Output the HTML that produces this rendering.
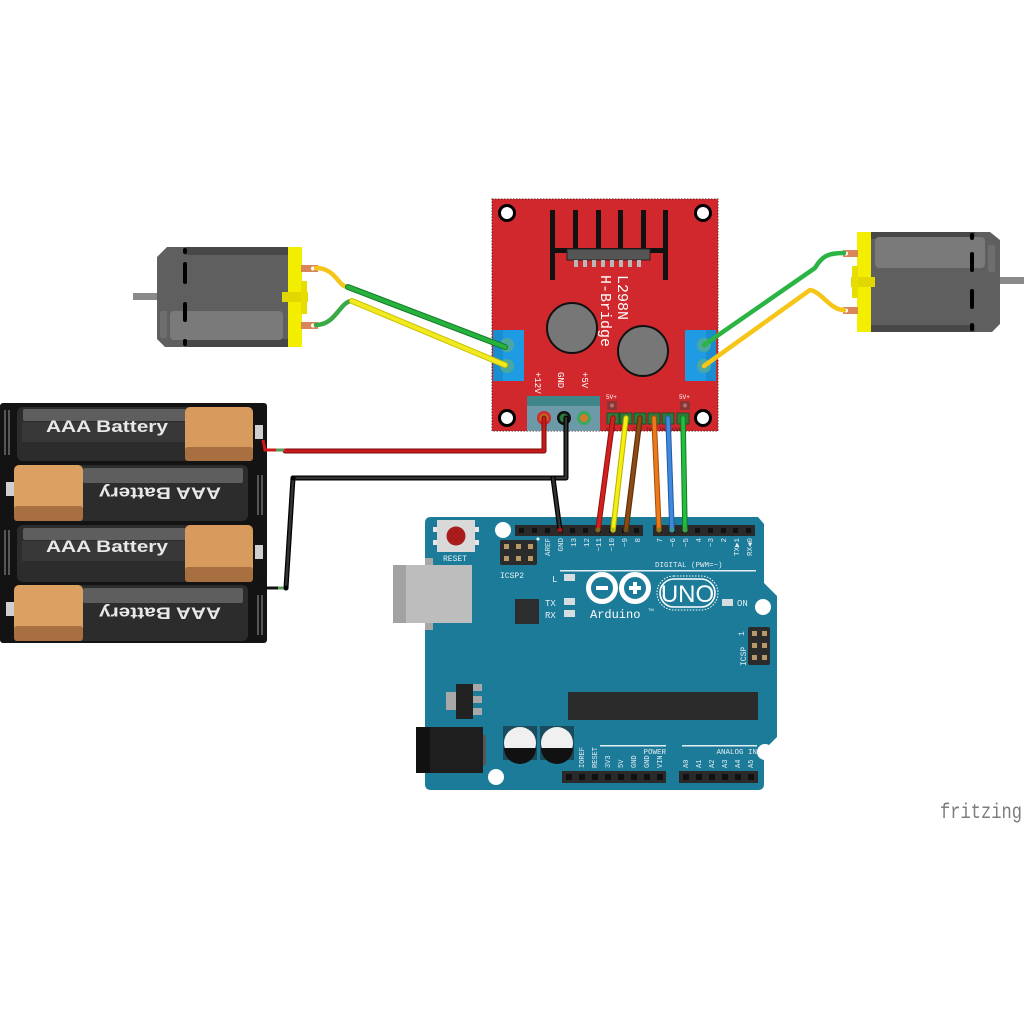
<!DOCTYPE html>
<html><head><meta charset="utf-8">
<style>
html,body{margin:0;padding:0;background:#fff;}
svg{display:block;}
.mono{font-family:"Liberation Mono",monospace;}
.sans{font-family:"Liberation Sans",sans-serif;}
</style></head>
<body>
<svg width="1024" height="1024" viewBox="0 0 1024 1024" xmlns="http://www.w3.org/2000/svg">
<rect width="1024" height="1024" fill="#fff"/>

<!-- ================= ARDUINO ================= -->
<path d="M431,517 L758,517 L764,524 L764,583 L777,596 L777,737 L764,750 L764,784 Q764,790 758,790 L431,790 Q425,790 425,784 L425,523 Q425,517 431,517 Z" fill="#1c7b99"/>
<!-- USB -->
<rect x="425" y="558" width="8" height="72" fill="#a8a8a8"/>
<rect x="393" y="565" width="79" height="58" fill="#bdbdbd"/>
<rect x="393" y="565" width="13" height="58" fill="#a2a2a2"/>
<!-- reset -->
<rect x="433" y="527" width="46" height="5" fill="#e6e6e6"/>
<rect x="433" y="540" width="46" height="5" fill="#e6e6e6"/>
<rect x="437" y="520" width="38" height="32" fill="#d9d9d9"/>
<circle cx="456" cy="536" r="9.5" fill="#a81c1c"/>
<text x="455" y="561" class="mono" font-size="8" fill="#e6f0f3" text-anchor="middle">RESET</text>
<!-- holes -->
<circle cx="503" cy="530" r="8" fill="#fff"/>
<circle cx="763" cy="607" r="8" fill="#fff"/>
<circle cx="765" cy="752" r="8" fill="#fff"/>
<circle cx="496" cy="777" r="8" fill="#fff"/>
<!-- ICSP2 -->
<rect x="500" y="540" width="37" height="25" rx="2" fill="#2b2b2b"/>
<g fill="#b89a6a">
<rect x="504" y="544" width="5" height="5"/><rect x="516" y="544" width="5" height="5"/><rect x="528" y="544" width="5" height="5"/>
<rect x="504" y="556" width="5" height="5"/><rect x="516" y="556" width="5" height="5"/><rect x="528" y="556" width="5" height="5"/>
</g>
<circle cx="538" cy="539" r="1.5" fill="#fff"/>
<text x="500" y="578" class="mono" font-size="8" fill="#e6f0f3">ICSP2</text>
<!-- digital headers -->
<rect x="515" y="525" width="128" height="11" fill="#2a2a2a"/>
<rect x="653" y="525" width="102" height="11" fill="#2a2a2a"/>
<g fill="#111">
<rect x="519" y="528" width="5" height="5"/><rect x="532" y="528" width="5" height="5"/><rect x="545" y="528" width="5" height="5"/><rect x="558" y="528" width="5" height="5"/><rect x="570" y="528" width="5" height="5"/><rect x="583" y="528" width="5" height="5"/><rect x="596" y="528" width="5" height="5"/><rect x="609" y="528" width="5" height="5"/><rect x="622" y="528" width="5" height="5"/><rect x="634" y="528" width="5" height="5"/>
<rect x="657" y="528" width="5" height="5"/><rect x="670" y="528" width="5" height="5"/><rect x="682" y="528" width="5" height="5"/><rect x="695" y="528" width="5" height="5"/><rect x="708" y="528" width="5" height="5"/><rect x="721" y="528" width="5" height="5"/><rect x="733" y="528" width="5" height="5"/><rect x="746" y="528" width="5" height="5"/>
</g>
<!-- digital labels (rotated -90) -->
<g class="mono" font-size="7.5" fill="#e3eef2" text-anchor="end">
<text transform="translate(550,538) rotate(-90)">AREF</text>
<text transform="translate(563,538) rotate(-90)">GND</text>
<text transform="translate(576,538) rotate(-90)">13</text>
<text transform="translate(589,538) rotate(-90)">12</text>
<text transform="translate(601,538) rotate(-90)">~11</text>
<text transform="translate(614,538) rotate(-90)">~10</text>
<text transform="translate(627,538) rotate(-90)">~9</text>
<text transform="translate(640,538) rotate(-90)">8</text>
<text transform="translate(662,538) rotate(-90)">7</text>
<text transform="translate(675,538) rotate(-90)">~6</text>
<text transform="translate(688,538) rotate(-90)">~5</text>
<text transform="translate(701,538) rotate(-90)">4</text>
<text transform="translate(713,538) rotate(-90)">~3</text>
<text transform="translate(726,538) rotate(-90)">2</text>
<text transform="translate(739,538) rotate(-90)">TX▶1</text>
<text transform="translate(752,538) rotate(-90)">RX◀0</text>
</g>
<text x="655" y="567" class="mono" font-size="7.5" fill="#e3eef2">DIGITAL (PWM=~)</text>
<rect x="560" y="570" width="196" height="1.5" fill="#e3eef2"/>
<!-- LEDs -->
<text x="552" y="582" class="mono" font-size="9" fill="#e3eef2">L</text>
<rect x="564" y="574" width="11" height="7" fill="#d5dde0"/>
<text x="545" y="606" class="mono" font-size="9" fill="#e3eef2">TX</text>
<rect x="564" y="598" width="11" height="7" fill="#d5dde0"/>
<text x="545" y="618" class="mono" font-size="9" fill="#e3eef2">RX</text>
<rect x="564" y="610" width="11" height="7" fill="#d5dde0"/>
<rect x="722" y="599" width="11" height="7" fill="#d5dde0"/>
<text x="737" y="606" class="mono" font-size="9" fill="#e3eef2">ON</text>
<!-- chip small -->
<rect x="515" y="599" width="24" height="25" fill="#2d2d2d"/>
<!-- logo -->
<circle cx="602" cy="588" r="13.5" fill="none" stroke="#fff" stroke-width="5"/>
<circle cx="635" cy="588" r="13.5" fill="none" stroke="#fff" stroke-width="5"/>
<rect x="596" y="586" width="12" height="4" fill="#fff"/>
<rect x="629" y="586" width="12" height="4" fill="#fff"/>
<rect x="633" y="582" width="4" height="12" fill="#fff"/>
<rect x="657" y="576" width="61" height="34" rx="17" fill="none" stroke="#fff" stroke-width="1" stroke-dasharray="1.5 1.5"/>
<rect x="660" y="579" width="55" height="28" rx="14" fill="none" stroke="#fff" stroke-width="1.6"/>
<text x="687.5" y="602" class="sans" font-size="24" fill="#fff" text-anchor="middle">UNO</text>
<text x="590" y="618" class="mono" font-size="12" fill="#fff">Arduino</text>
<text x="648" y="611" class="sans" font-size="4" fill="#fff">TM</text>
<!-- ICSP right -->
<rect x="748" y="627" width="22" height="38" rx="2" fill="#2b2b2b"/>
<g fill="#b89a6a">
<rect x="752" y="631" width="5" height="5"/><rect x="762" y="631" width="5" height="5"/>
<rect x="752" y="643" width="5" height="5"/><rect x="762" y="643" width="5" height="5"/>
<rect x="752" y="655" width="5" height="5"/><rect x="762" y="655" width="5" height="5"/>
</g>
<text transform="translate(746,666) rotate(-90)" class="mono" font-size="8" fill="#e3eef2">ICSP</text>
<text transform="translate(744,636) rotate(-90)" class="mono" font-size="8" fill="#e3eef2">1</text>
<!-- regulator -->
<rect x="446" y="692" width="11" height="18" fill="#a8a8a8"/>
<rect x="472" y="684" width="10" height="7" fill="#a8a8a8"/>
<rect x="472" y="696" width="10" height="7" fill="#a8a8a8"/>
<rect x="472" y="708" width="10" height="7" fill="#a8a8a8"/>
<rect x="456" y="684" width="17" height="35" fill="#222"/>
<!-- power jack -->
<rect x="416" y="727" width="67" height="46" fill="#1e1e1e"/>
<rect x="416" y="727" width="14" height="46" fill="#111"/>
<rect x="483" y="735" width="3" height="30" fill="#555"/>
<!-- capacitors -->
<rect x="503" y="726" width="34" height="34" fill="#1a4b5c"/>
<rect x="540" y="726" width="34" height="34" fill="#1a4b5c"/>
<circle cx="520" cy="743" r="16" fill="#f0f0f0"/>
<path d="M504,748 A16,16 0 0 0 536,748 Z" fill="#111"/>
<circle cx="557" cy="743" r="16" fill="#f0f0f0"/>
<path d="M541,748 A16,16 0 0 0 573,748 Z" fill="#111"/>
<!-- big chip -->
<rect x="568" y="692" width="190" height="28" fill="#2b2b2b"/>
<!-- power/analog labels -->
<rect x="600" y="745" width="66" height="1.5" fill="#e3eef2"/>
<rect x="682" y="745" width="75" height="1.5" fill="#e3eef2"/>
<text x="666" y="754" class="mono" font-size="7.5" fill="#e3eef2" text-anchor="end">POWER</text>
<text x="757" y="754" class="mono" font-size="7.5" fill="#e3eef2" text-anchor="end">ANALOG IN</text>
<g class="mono" font-size="7" fill="#e3eef2">
<text transform="translate(584,768) rotate(-90)">IOREF</text>
<text transform="translate(597,768) rotate(-90)">RESET</text>
<text transform="translate(610,768) rotate(-90)">3V3</text>
<text transform="translate(623,768) rotate(-90)">5V</text>
<text transform="translate(636,768) rotate(-90)">GND</text>
<text transform="translate(649,768) rotate(-90)">GND</text>
<text transform="translate(662,768) rotate(-90)">VIN</text>
<text transform="translate(688,768) rotate(-90)">A0</text>
<text transform="translate(701,768) rotate(-90)">A1</text>
<text transform="translate(714,768) rotate(-90)">A2</text>
<text transform="translate(727,768) rotate(-90)">A3</text>
<text transform="translate(740,768) rotate(-90)">A4</text>
<text transform="translate(753,768) rotate(-90)">A5</text>
</g>
<rect x="562" y="771" width="104" height="12" fill="#2a2a2a"/>
<rect x="679" y="771" width="79" height="12" fill="#2a2a2a"/>
<g fill="#111">
<rect x="566" y="774" width="6" height="6"/><rect x="579" y="774" width="6" height="6"/><rect x="592" y="774" width="6" height="6"/><rect x="605" y="774" width="6" height="6"/><rect x="618" y="774" width="6" height="6"/><rect x="631" y="774" width="6" height="6"/><rect x="644" y="774" width="6" height="6"/><rect x="657" y="774" width="6" height="6"/>
<rect x="683" y="774" width="6" height="6"/><rect x="696" y="774" width="6" height="6"/><rect x="709" y="774" width="6" height="6"/><rect x="722" y="774" width="6" height="6"/><rect x="735" y="774" width="6" height="6"/><rect x="748" y="774" width="6" height="6"/>
</g>

<!-- ================= L298N ================= -->
<rect x="492" y="199" width="226" height="232" fill="#d0282c" stroke="#6a2a2a" stroke-width="1" stroke-dasharray="1.5 1.5"/>
<!-- holes -->
<g fill="#fff" stroke="#000" stroke-width="3">
<circle cx="507" cy="213" r="7.5"/><circle cx="703" cy="213" r="7.5"/>
<circle cx="507" cy="418" r="7.5"/><circle cx="703" cy="418" r="7.5"/>
</g>
<!-- heatsink -->
<g fill="#111">
<rect x="550" y="210" width="5" height="70"/><rect x="573" y="210" width="5" height="48"/><rect x="596" y="210" width="5" height="48"/><rect x="618" y="210" width="5" height="48"/><rect x="641" y="210" width="5" height="48"/><rect x="663" y="210" width="5" height="70"/>
<rect x="550" y="248" width="118" height="5"/>
</g>
<rect x="567" y="249" width="83" height="11" fill="#555" stroke="#222" stroke-width="1"/>
<g fill="#b8b8b8">
<rect x="574" y="260" width="4" height="7"/><rect x="583" y="260" width="4" height="7"/><rect x="592" y="260" width="4" height="7"/><rect x="601" y="260" width="4" height="7"/><rect x="610" y="260" width="4" height="7"/><rect x="619" y="260" width="4" height="7"/><rect x="628" y="260" width="4" height="7"/><rect x="637" y="260" width="4" height="7"/>
</g>
<text transform="translate(618,275) rotate(90)" class="mono" font-size="15" fill="#fff">L298N</text>
<text transform="translate(601,275) rotate(90)" class="mono" font-size="15" fill="#fff">H-Bridge</text>
<!-- big caps -->
<circle cx="572" cy="328" r="25" fill="#777" stroke="#111" stroke-width="2"/>
<circle cx="643" cy="351" r="25" fill="#777" stroke="#111" stroke-width="2"/>
<!-- motor terminals -->
<rect x="493" y="330" width="31" height="51" fill="#1e9be2"/>
<rect x="493" y="330" width="10" height="51" fill="#1a8cd0"/>
<circle cx="507" cy="345" r="7" fill="#4aa8a0"/>
<circle cx="507" cy="366" r="7" fill="#4aa8a0"/>
<rect x="685" y="330" width="31" height="51" fill="#1e9be2"/>
<rect x="706" y="330" width="10" height="51" fill="#1a8cd0"/>
<circle cx="704" cy="345" r="7" fill="#4aa8a0"/>
<circle cx="704" cy="366" r="7" fill="#4aa8a0"/>
<!-- power labels -->
<g class="mono" font-size="9" fill="#fff">
<text transform="translate(535,372) rotate(90)">+12V</text>
<text transform="translate(558,372) rotate(90)">GND</text>
<text transform="translate(582,372) rotate(90)">+5V</text>
</g>
<!-- power terminal -->
<rect x="527" y="396" width="73" height="35" fill="#6c9aa8"/>
<rect x="527" y="396" width="73" height="10" fill="#3f8688"/>
<circle cx="544" cy="418" r="7" fill="#d0282c"/>
<circle cx="544" cy="418" r="4.5" fill="#c07020"/>
<circle cx="564" cy="418" r="7" fill="#111"/>
<circle cx="564" cy="418" r="4.5" fill="#2a7a40"/>
<circle cx="584" cy="418" r="7" fill="#3aa860"/>
<circle cx="584" cy="418" r="4" fill="#d07a2a"/>
<!-- 5V+ jumpers -->
<text x="606" y="399" class="mono" font-size="6" fill="#fff">5V+</text>
<text x="679" y="399" class="mono" font-size="6" fill="#fff">5V+</text>
<rect x="607" y="401" width="10" height="9" fill="#8a3434"/>
<rect x="680" y="401" width="10" height="9" fill="#8a3434"/>
<circle cx="612" cy="405.5" r="2" fill="#b07070"/>
<circle cx="685" cy="405.5" r="2" fill="#b07070"/>
<!-- control header -->
<g fill="#2f7a3a" stroke="#1e5228" stroke-width="1">
<rect x="607" y="413" width="12" height="11"/><rect x="620" y="413" width="12" height="11"/><rect x="634" y="413" width="12" height="11"/><rect x="648" y="413" width="12" height="11"/><rect x="662" y="413" width="12" height="11"/><rect x="677" y="413" width="12" height="11"/>
</g>
<text x="606" y="431" class="mono" font-size="5.5" fill="#5a1a1a">ENA IN1 IN2 IN3 IN4 ENB</text>

<!-- ================= WIRES to Arduino ================= -->
<g stroke-linecap="round" fill="none">
<path d="M613,418 L598,530" stroke="#8e1212" stroke-width="5.5"/><path d="M613,418 L598,530" stroke="#d41f1f" stroke-width="3.5"/>
<path d="M626,418 L613,530" stroke="#b8b000" stroke-width="5.5"/><path d="M626,418 L613,530" stroke="#f5ef10" stroke-width="3.5"/>
<path d="M640,418 L626,530" stroke="#5a2c08" stroke-width="5.5"/><path d="M640,418 L626,530" stroke="#8c4a14" stroke-width="3.5"/>
<path d="M654,418 L659,530" stroke="#a44c08" stroke-width="5.5"/><path d="M654,418 L659,530" stroke="#ec7a1a" stroke-width="3.5"/>
<path d="M668,418 L672,530" stroke="#1f5aa0" stroke-width="5.5"/><path d="M668,418 L672,530" stroke="#3f8ae0" stroke-width="3.5"/>
<path d="M683,418 L685,530" stroke="#137a28" stroke-width="5.5"/><path d="M683,418 L685,530" stroke="#22c03c" stroke-width="3.5"/>
</g>
<!-- battery wires -->
<g stroke-linecap="round" stroke-linejoin="round" fill="none">
<path d="M544,418 L544,451 L285,451" stroke="#7a0c0c" stroke-width="5"/>
<path d="M544,418 L544,451 L285,451" stroke="#c81a1a" stroke-width="3"/>
<path d="M566,418 L566,478 L293,478 L286,588" stroke="#000" stroke-width="5"/>
<path d="M566,418 L566,478 L293,478 L286,588" stroke="#333" stroke-width="2.5"/>
<path d="M553,478 L560,530" stroke="#000" stroke-width="5"/>
<path d="M553,478 L560,530" stroke="#333" stroke-width="2.5"/>
</g>
<circle cx="598" cy="530" r="2.5" fill="#7a6a20"/><circle cx="613" cy="530" r="2.5" fill="#b8c020"/><circle cx="626" cy="530" r="2.5" fill="#6a5020"/>
<circle cx="659" cy="530" r="2.5" fill="#8a7a20"/><circle cx="672" cy="530" r="2.5" fill="#3a9a9a"/><circle cx="685" cy="530" r="2.5" fill="#40a040"/>
<circle cx="560" cy="530" r="2.5" fill="#a01818"/>

<!-- ================= MOTORS ================= -->
<!-- left motor -->
<rect x="133" y="293" width="25" height="7" fill="#8a8a8a"/>
<path d="M167,247 L288,247 L288,347 L165,347 L157,339 L157,257 Z" fill="#5f5f5f"/>
<rect x="185" y="247" width="103" height="8" fill="#474747"/>
<rect x="185" y="339" width="103" height="8" fill="#474747"/>
<rect x="170" y="311" width="113" height="29" rx="4" fill="#7a7a7a"/>
<rect x="160" y="311" width="7" height="27" rx="2" fill="#6e6e6e"/>
<g fill="#000">
<rect x="183" y="248" width="4" height="6" rx="2"/><rect x="183" y="262" width="4" height="22" rx="2"/><rect x="183" y="302" width="4" height="20" rx="2"/><rect x="183" y="339" width="4" height="7" rx="2"/>
</g>
<rect x="288" y="247" width="14" height="100" fill="#f3ee00"/>
<rect x="282" y="292" width="26" height="10" fill="#e0d800"/>
<rect x="301" y="281" width="6" height="33" fill="#e6de00"/>
<rect x="301" y="265" width="17" height="7" fill="#d9875a"/>
<circle cx="313" cy="268.5" r="2" fill="#fff"/>
<rect x="301" y="322" width="17" height="7" fill="#d9875a"/>
<circle cx="313" cy="325.5" r="2" fill="#fff"/>
<g fill="none" stroke-linecap="round" stroke-linejoin="round">
<path d="M316,268 C336,268 338,287 348,287" stroke="#f5c518" stroke-width="4.5"/>
<path d="M316,325 C336,325 340,301 352,301" stroke="#3aaa46" stroke-width="4.5"/>
<path d="M348,287 L505,347" stroke="#137a28" stroke-width="6"/>
<path d="M348,287 L505,347" stroke="#27b23c" stroke-width="4"/>
<path d="M352,301 L505,365" stroke="#c8c000" stroke-width="6"/>
<path d="M352,301 L505,365" stroke="#f2ea20" stroke-width="4"/>
</g>
<!-- right motor -->
<rect x="999" y="277" width="25" height="7" fill="#8a8a8a"/>
<path d="M870,232 L990,232 L1000,240 L1000,324 L992,332 L870,332 Z" fill="#5f5f5f"/>
<rect x="870" y="232" width="105" height="7" fill="#474747"/>
<rect x="870" y="325" width="105" height="7" fill="#474747"/>
<rect x="875" y="237" width="110" height="31" rx="4" fill="#7a7a7a"/>
<rect x="988" y="245" width="7" height="27" rx="2" fill="#6e6e6e"/>
<g fill="#000">
<rect x="970" y="233" width="4" height="7" rx="2"/><rect x="970" y="252" width="4" height="20" rx="2"/><rect x="970" y="289" width="4" height="20" rx="2"/><rect x="970" y="323" width="4" height="8" rx="2"/>
</g>
<rect x="857" y="232" width="14" height="100" fill="#f3ee00"/>
<rect x="851" y="277" width="24" height="10" fill="#e0d800"/>
<rect x="852" y="266" width="6" height="32" fill="#e6de00"/>
<rect x="843" y="250" width="15" height="7" fill="#d9875a"/>
<circle cx="846" cy="253.5" r="2" fill="#fff"/>
<rect x="843" y="307" width="15" height="7" fill="#d9875a"/>
<circle cx="846" cy="310.5" r="2" fill="#fff"/>
<g fill="none" stroke-linecap="round" stroke-linejoin="round">
<path d="M844,253 C828,253 822,256 815,268 L704,345" stroke="#2bb444" stroke-width="4.5"/>
<path d="M844,310 C830,310 822,292 810,290 L704,366" stroke="#f5c518" stroke-width="4.5"/>
</g>

<!-- ================= BATTERY PACK ================= -->
<rect x="0" y="403" width="267" height="240" rx="3" fill="#131313"/>
<!-- springs -->
<g fill="none" stroke="#bbb" stroke-width="0.8">
<path d="M5,410 L5,455 M9,410 L9,455 M258,475 L258,515 M262,475 L262,515 M5,530 L5,575 M9,530 L9,575 M258,595 L258,635 M262,595 L262,635"/>
</g>
<g fill="#cfcfcf">
<rect x="255" y="425" width="8" height="14"/><rect x="6" y="482" width="8" height="14"/>
<rect x="255" y="545" width="8" height="14"/><rect x="6" y="602" width="8" height="14"/>
</g>
<!-- B1 -->
<rect x="17" y="407" width="236" height="54" rx="6" fill="#2c2c2c"/>
<rect x="23" y="409" width="163" height="12" rx="2" fill="#5e5e5e"/>
<rect x="22" y="422" width="164" height="20" fill="#383838"/>
<rect x="185" y="407" width="68" height="54" rx="5" fill="#d99a5e"/>
<rect x="185" y="447" width="68" height="14" rx="3" fill="#a87040"/>
<text x="107" y="432" class="sans" font-size="17" font-weight="bold" fill="#e8e8e8" text-anchor="middle" textLength="122" lengthAdjust="spacingAndGlyphs">AAA Battery</text>
<!-- B2 -->
<rect x="14" y="465" width="234" height="56" rx="6" fill="#2c2c2c"/>
<rect x="83" y="468" width="160" height="15" rx="2" fill="#5e5e5e"/>
<rect x="14" y="465" width="69" height="56" rx="5" fill="#dca062"/>
<rect x="14" y="506" width="69" height="15" rx="3" fill="#a87040"/>
<text transform="rotate(180,160,494)" x="160" y="500.5" class="sans" font-size="17" font-weight="bold" fill="#e8e8e8" text-anchor="middle" textLength="122" lengthAdjust="spacingAndGlyphs">AAA Battery</text>
<!-- B3 -->
<rect x="17" y="525" width="236" height="57" rx="6" fill="#2c2c2c"/>
<rect x="23" y="528" width="163" height="12" rx="2" fill="#5e5e5e"/>
<rect x="22" y="541" width="164" height="20" fill="#383838"/>
<rect x="185" y="525" width="68" height="57" rx="5" fill="#d99a5e"/>
<rect x="185" y="567" width="68" height="15" rx="3" fill="#a87040"/>
<text x="107" y="552" class="sans" font-size="17" font-weight="bold" fill="#e8e8e8" text-anchor="middle" textLength="122" lengthAdjust="spacingAndGlyphs">AAA Battery</text>
<!-- B4 -->
<rect x="14" y="585" width="234" height="56" rx="6" fill="#2c2c2c"/>
<rect x="83" y="588" width="160" height="15" rx="2" fill="#5e5e5e"/>
<rect x="14" y="585" width="69" height="56" rx="5" fill="#dca062"/>
<rect x="14" y="626" width="69" height="15" rx="3" fill="#a87040"/>
<text transform="rotate(180,160,614)" x="160" y="620.5" class="sans" font-size="17" font-weight="bold" fill="#e8e8e8" text-anchor="middle" textLength="122" lengthAdjust="spacingAndGlyphs">AAA Battery</text>
<!-- battery leads -->
<path d="M263,440 L265,450 L286,450" fill="none" stroke="#d01818" stroke-width="3"/>
<path d="M276,450 L284,450" stroke="#5a9a5a" stroke-width="3"/>
<path d="M263,580 L265,588 L286,588" fill="none" stroke="#111" stroke-width="3"/>
<path d="M278,588 L285,588" stroke="#5a9a5a" stroke-width="3"/>
<circle cx="286" cy="588" r="2.5" fill="#000"/>
<circle cx="293" cy="478" r="2.5" fill="#000"/>

<!-- fritzing -->
<text x="940" y="818" class="mono" font-size="21" fill="#7c7c7c" textLength="82" lengthAdjust="spacingAndGlyphs">fritzing</text>
</svg>
</body></html>
